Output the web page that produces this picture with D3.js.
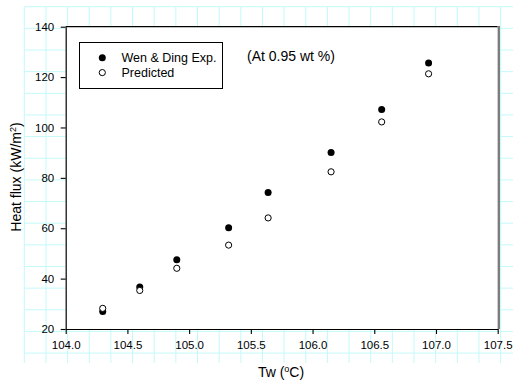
<!DOCTYPE html>
<html>
<head>
<meta charset="utf-8">
<script src="https://cdn.jsdelivr.net/npm/d3@7"></script>
<style>
  html, body { margin: 0; padding: 0; background: #fff; }
  svg { display: block; font-family: "Liberation Sans", Arial, sans-serif; }
</style>
</head>
<body>
<svg id="chart" width="513" height="380"></svg>
<script>
// Wall temperature (°C) for each measurement
const tw = [104.30, 104.60, 104.90, 105.32, 105.64, 106.15, 106.56, 106.94];
// Heat flux (kW/m²): experiment of Wen & Ding and model prediction
const experimental = [26.9, 36.7, 47.5, 60.2, 74.2, 90.1, 107.1, 125.6];
const predicted    = [28.2, 35.3, 44.1, 53.3, 64.1, 82.4, 102.2, 121.3];
const xTicks = [104.0, 104.5, 105.0, 105.5, 106.0, 106.5, 107.0, 107.5];
const yTicks = [20, 40, 60, 80, 100, 120, 140];
const seriesNames = ["Wen & Ding Exp.", "Predicted"];
const noteText = "(At 0.95 wt %)";

const svg = d3.select("#chart");

// Background drawing grid of the page
const gridStep = 21.65, gx0 = 24.3, gy0 = 6.7, gx1 = 513, gy1 = 363;
const grid = svg.append("g").attr("stroke", "#c4f9f9").attr("stroke-width", 1);
grid.selectAll("line.v").data(d3.range(gx0, gx1 + 0.1, gridStep)).join("line")
  .attr("x1", d => d).attr("x2", d => d).attr("y1", gy0).attr("y2", gy1);
grid.selectAll("line.h").data(d3.range(gy0, gy1 + 0.1, gridStep)).join("line")
  .attr("x1", gx0).attr("x2", gx1).attr("y1", d => d).attr("y2", d => d);

// Plot area
const plotL = 65.7, plotR = 497.7, plotT = 26.7, plotB = 329;
const x = d3.scaleLinear().domain([104, 107.5]).range([plotL, plotR]);
const y = d3.scaleLinear().domain([20, 140]).range([plotB, plotT]);

svg.append("rect").attr("x", plotL).attr("y", plotT)
  .attr("width", plotR - plotL).attr("height", plotB - plotT).attr("fill", "#fff");

// Frame: black top edge, grey right edge
svg.append("line").attr("x1", plotL).attr("x2", plotR).attr("y1", plotT).attr("y2", plotT)
  .attr("stroke", "#000").attr("stroke-width", 1.2);
svg.append("line").attr("x1", plotR + 1.1).attr("x2", plotR + 1.1).attr("y1", plotT - 0.6).attr("y2", plotB)
  .attr("stroke", "#7a7a7a").attr("stroke-width", 2.3);

// Axes
const xAxis = d3.axisBottom(x).tickValues(xTicks).tickFormat(d3.format(".1f"))
  .tickSize(5).tickPadding(7).tickSizeOuter(0);
const yAxis = d3.axisLeft(y).tickValues(yTicks).tickFormat(d3.format("d"))
  .tickSize(5).tickPadding(6.5).tickSizeOuter(0);

const gx = svg.append("g").attr("transform", `translate(0,${plotB})`).call(xAxis);
const gy = svg.append("g").attr("transform", `translate(${plotL},0)`).call(yAxis);
[gx, gy].forEach(g => {
  g.selectAll("path.domain").attr("stroke", "#000").attr("stroke-width", 1.2);
  g.selectAll(".tick line").attr("stroke", "#000").attr("stroke-width", 1.1);
  g.selectAll(".tick text").attr("fill", "#000")
    .style("font-family", "'Liberation Sans', Arial, sans-serif").style("font-size", "11.5px");
});

// Axis titles
const xt = svg.append("text").attr("x", 281).attr("y", 376.5).attr("text-anchor", "middle")
  .attr("font-size", 14).attr("fill", "#000");
xt.append("tspan").text("Tw (");
xt.append("tspan").attr("font-size", 9).attr("dy", -5).text("o");
xt.append("tspan").attr("dy", 5).text("C)");

const yt = svg.append("text").attr("transform", "translate(21,177) rotate(-90)")
  .attr("text-anchor", "middle").attr("font-size", 14).attr("fill", "#000");
yt.append("tspan").text("Heat flux (kW/m");
yt.append("tspan").attr("font-size", 9).attr("dy", -5).text("2");
yt.append("tspan").attr("dy", 5).text(")");

// Data points
const r = 3.5;
svg.append("g").selectAll("circle").data(tw.map((t, i) => [t, experimental[i]])).join("circle")
  .attr("cx", d => x(d[0])).attr("cy", d => y(d[1])).attr("r", r).attr("fill", "#000");
svg.append("g").selectAll("circle").data(tw.map((t, i) => [t, predicted[i]])).join("circle")
  .attr("cx", d => x(d[0])).attr("cy", d => y(d[1])).attr("r", r - 0.4)
  .attr("fill", "#fff").attr("stroke", "#000").attr("stroke-width", 1);

// Legend
const lg = svg.append("g");
lg.append("rect").attr("x", 79.5).attr("y", 42.5).attr("width", 143).attr("height", 46)
  .attr("fill", "#fff").attr("stroke", "#000").attr("stroke-width", 1);
const legendRows = [
  { name: seriesNames[0], filled: true, cy: 57.8 },
  { name: seriesNames[1], filled: false, cy: 72.6 }
];
legendRows.forEach(row => {
  lg.append("circle").attr("cx", 102.3).attr("cy", row.cy).attr("r", row.filled ? 3.5 : 3.1)
    .attr("fill", row.filled ? "#000" : "#fff").attr("stroke", "#000").attr("stroke-width", row.filled ? 0 : 1);
  lg.append("text").attr("x", 121.5).attr("y", row.cy + 4.5).attr("font-size", 12.5)
    .attr("fill", "#000").text(row.name);
});

// Annotation
svg.append("text").attr("x", 247).attr("y", 60.5).attr("font-size", 14)
  .attr("fill", "#000").text(noteText);
</script>
</body>
</html>
